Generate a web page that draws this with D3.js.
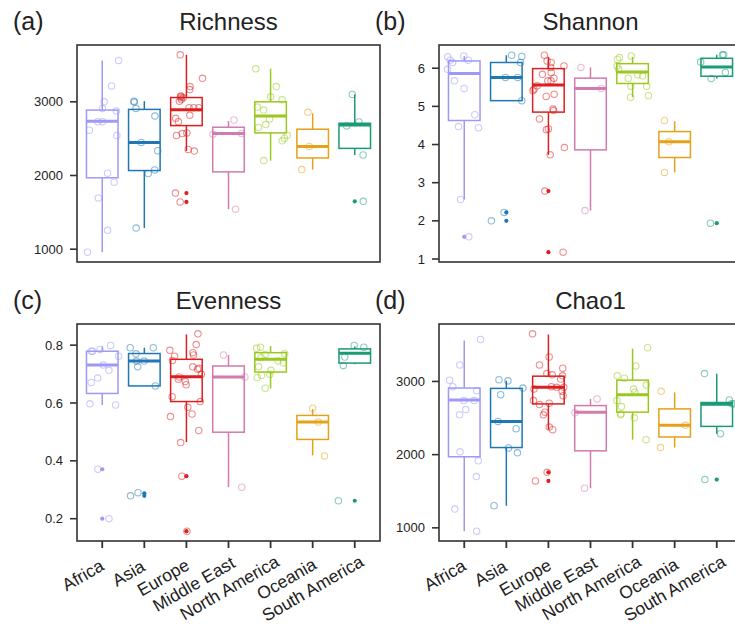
<!DOCTYPE html>
<html><head><meta charset="utf-8">
<script src="https://cdn.jsdelivr.net/npm/d3@7"></script>
<style>
body{margin:0;background:#fff;overflow:hidden;}
svg{display:block;font-family:"Liberation Sans",Arial,Helvetica,sans-serif;}
</style>
</head><body>
<svg id="chart" width="735" height="631"></svg>
<script>
// ---------------- DATA ----------------
const categories = ["Africa","Asia","Europe","Middle East","North America","Oceania","South America"];
const colors = ["#9d9af5","#1f77b4","#dd1f1f","#d27bad","#99c91f","#e6a11a","#1a9b75"];
const panelLetters = ["(a)","(b)","(c)","(d)"];
const panelTitles = ["Richness","Shannon","Evenness","Chao1"];

const richnessTicks = [1000,2000,3000];
const shannonTicks = [1,2,3,4,5,6];
const evennessTicks = [0.2,0.4,0.6,0.8];
const chao1Ticks = [1000,2000,3000];

// box stats per category: [lower whisker, Q1, median, Q3, upper whisker]
const richnessBoxes = [
  [960,1969,2735,2888,3561],[1287,2067,2448,2897,3009],[2332,2677,2892,3058,3637],
  [1543,2049,2570,2655,2740],[2202,2578,2807,3000,3448],[2081,2238,2395,2628,2843],
  [2278,2368,2686,2709,3100]];
const richnessOutliers = [[],[],[1762,1641],[],[],[],[1650]];
const richnessPoints = [
  [3561,3215,2910,3000,2874,2731,2731,2614,2543,2031,1910,1695,1256,960],
  [3009,2996,2910,2807,2448,2336,2076,2027,1287],
  [3637,3318,3206,3166,3009,3031,3054,3054,3076,3076,2919,2919,2919,2816,2776,2731,2578,2543,2569,2354,2332,1762,1641],
  [2753,2570,2560,1543],
  [3448,3206,3067,3027,2928,2888,2767,2691,2650,2547,2507,2471,2202],
  [2857,2395,2081],
  [3100,2727,2673,2278,1650]];

const shannonBoxes = [
  [2.56,4.63,5.86,6.19,6.32],[5.15,5.15,5.76,6.15,6.34],[3.73,4.85,5.56,5.99,6.30],
  [2.27,3.86,5.47,5.74,6.02],[5.24,5.60,5.90,6.12,6.30],[3.27,3.66,4.07,4.34,4.61],
  [5.73,5.79,6.03,6.26,6.35]];
const shannonOutliers = [[1.58],[2.22,2.00],[2.78,1.18],[],[],[],[1.94]];
const shannonPoints = [
  [6.32,6.21,6.15,6.21,6.30,5.97,5.67,5.47,4.78,4.44,4.47,2.56,1.58],
  [6.31,6.34,6.15,5.76,5.76,5.15,2.22,2.00],
  [6.34,6.19,6.15,6.06,6.02,5.84,5.89,5.67,5.74,5.54,5.45,5.41,5.32,5.26,4.93,4.89,4.67,4.39,4.41,3.92,3.73,2.78,1.18,5.67],
  [6.02,5.47,2.27],
  [6.28,6.32,6.23,6.06,5.97,5.83,5.80,5.74,5.53,5.53,5.28,5.24],
  [4.63,4.07,3.27],
  [6.35,6.35,6.16,5.89,5.73,1.94]];

const evennessBoxes = [
  [0.593,0.633,0.731,0.779,0.795],[0.659,0.659,0.745,0.771,0.791],[0.465,0.605,0.691,0.751,0.837],
  [0.309,0.499,0.690,0.728,0.766],[0.650,0.707,0.751,0.774,0.797],[0.419,0.474,0.534,0.557,0.579],
  [0.734,0.738,0.772,0.787,0.795]];
const evennessOutliers = [[0.371,0.200],[0.288,0.279],[0.347,0.157],[],[],[],[0.262]];
const evennessPoints = [
  [0.762,0.779,0.779,0.785,0.799,0.731,0.713,0.686,0.671,0.597,0.593,0.371,0.200],
  [0.745,0.770,0.791,0.791,0.745,0.725,0.659,0.290,0.279],
  [0.839,0.802,0.782,0.774,0.762,0.766,0.747,0.725,0.720,0.717,0.699,0.682,0.690,0.674,0.663,0.622,0.605,0.585,0.562,0.553,0.505,0.463,0.347,0.157],
  [0.766,0.690,0.309],
  [0.793,0.789,0.770,0.768,0.757,0.745,0.725,0.713,0.696,0.699,0.688,0.651,0.739],
  [0.582,0.534,0.417],
  [0.799,0.793,0.759,0.730,0.262]];

const chao1Boxes = [
  [955,1971,2747,2910,3560],[1302,2097,2454,2905,3009],[2341,2693,2919,3072,3641],
  [1542,2052,2580,2670,2761],[2205,2580,2819,3018,3447],[2097,2241,2400,2625,2851],
  [2287,2386,2690,2712,3105]];
const chao1Outliers = [[],[],[1758,1641],[],[],[],[1660]];
const chao1Points = [
  [3573,3226,3018,2874,2928,2616,2544,2738,2738,2038,1916,1700,1257,955],
  [3023,3009,2910,2819,2454,2354,2092,2025,1302],
  [3650,3334,3226,3181,3077,3108,3032,3090,2928,2919,2919,2896,2865,2806,2702,2684,2738,2580,2544,2377,2341,1758,1641],
  [2761,2571,1542],
  [3461,3212,3077,3045,2950,2896,2851,2738,2657,2544,2558,2503,2205],
  [2865,2400,2097],
  [3108,2694,2694,2287,1660,2747]];

// ---------------- LAYOUT ----------------
const panels = [
  {box:richnessBoxes, out:richnessOutliers, pts:richnessPoints, ticks:richnessTicks, fmt:d3.format("d"), x0:77, x1:380, y0:45, y1:262, xAxis:false, seed:0.11},
  {box:shannonBoxes, out:shannonOutliers, pts:shannonPoints, ticks:shannonTicks, fmt:d3.format("d"), x0:439, x1:742, y0:45, y1:262, xAxis:false, seed:0.37},
  {box:evennessBoxes, out:evennessOutliers, pts:evennessPoints, ticks:evennessTicks, fmt:d3.format(".1f"), x0:77, x1:380, y0:324, y1:541, xAxis:true, seed:0.59},
  {box:chao1Boxes, out:chao1Outliers, pts:chao1Points, ticks:chao1Ticks, fmt:d3.format("d"), x0:439, x1:742, y0:324, y1:541, xAxis:true, seed:0.83}
];

const svg = d3.select("#chart");
const axisColor = "#333";

panels.forEach((p, pi) => {
  const g = svg.append("g");
  const x = d3.scalePoint().domain(categories).range([p.x0, p.x1]).padding(0.6);
  const allVals = p.pts.flat().concat(p.box.flat());
  const [mn, mx] = d3.extent(allVals);
  const pad = (mx - mn) * 0.05;
  const y = d3.scaleLinear().domain([mn - pad, mx + pad]).range([p.y1, p.y0]);
  const step = x.step();
  const bw = step * 0.75;
  const rnd = d3.randomLcg(p.seed);

  const clipId = "clip" + pi;
  svg.append("clipPath").attr("id", clipId).append("rect")
    .attr("x", p.x0).attr("y", p.y0).attr("width", p.x1 - p.x0).attr("height", p.y1 - p.y0);
  const plot = g.append("g").attr("clip-path", `url(#${clipId})`);

  categories.forEach((c, ci) => {
    const col = colors[ci];
    const [lo, q1, med, q3, hi] = p.box[ci];
    const cx = x(c);
    const cg = plot.append("g");
    cg.append("line").attr("x1", cx).attr("x2", cx).attr("y1", y(q3)).attr("y2", y(hi))
      .attr("stroke", col).attr("stroke-width", 1.5);
    cg.append("line").attr("x1", cx).attr("x2", cx).attr("y1", y(q1)).attr("y2", y(lo))
      .attr("stroke", col).attr("stroke-width", 1.5);
    cg.append("rect").attr("x", cx - bw/2).attr("width", bw)
      .attr("y", y(q3)).attr("height", y(q1) - y(q3))
      .attr("fill", "#fff").attr("stroke", col).attr("stroke-width", 1.5);
    cg.append("line").attr("x1", cx - bw/2).attr("x2", cx + bw/2)
      .attr("y1", y(med)).attr("y2", y(med))
      .attr("stroke", col).attr("stroke-width", 3);
    cg.selectAll("circle.out").data(p.out[ci]).join("circle")
      .attr("class","out").attr("cx", cx).attr("cy", d => y(d)).attr("r", 2.1)
      .attr("fill", col);
    cg.selectAll("circle.pt").data(p.pts[ci]).join("circle")
      .attr("class","pt")
      .attr("cx", () => cx + (rnd() - 0.5) * 0.8 * step)
      .attr("cy", d => y(d)).attr("r", 3.2)
      .attr("fill", "none").attr("stroke", col).attr("stroke-width", 1.1)
      .attr("stroke-opacity", 0.5);
  });

  g.append("rect").attr("x", p.x0).attr("y", p.y0)
    .attr("width", p.x1 - p.x0).attr("height", p.y1 - p.y0)
    .attr("fill", "none").attr("stroke", axisColor).attr("stroke-width", 1.6);

  p.ticks.forEach(t => {
    g.append("line").attr("x1", p.x0 - 7).attr("x2", p.x0).attr("y1", y(t)).attr("y2", y(t))
      .attr("stroke", axisColor).attr("stroke-width", 1.6);
    g.append("text").attr("x", p.x0 - 14).attr("y", y(t)).attr("dy", "0.35em")
      .attr("text-anchor", "end").attr("font-size", 13).attr("fill", "#222")
      .text(p.fmt(t));
  });

  if (p.xAxis) {
    categories.forEach(c => {
      const cx = x(c);
      g.append("line").attr("x1", cx).attr("x2", cx).attr("y1", p.y1).attr("y2", p.y1 + 7)
        .attr("stroke", axisColor).attr("stroke-width", 1.8);
      const t = g.append("text")
        .attr("transform", `translate(${cx - 4.7},${p.y1 + 25.6}) rotate(-30)`)
        .attr("font-size", 17.5).attr("fill", "#222").text(c);
      const L = t.node().getComputedTextLength();
      t.attr("x", -0.88 * L).attr("dy", "0.35em");
    });
  }

  g.append("text").attr("x", (p.x0 + p.x1) / 2).attr("y", p.y0 - 15)
    .attr("text-anchor", "middle").attr("font-size", 24).attr("fill", "#222")
    .text(panelTitles[pi]);
  g.append("text").attr("x", p.x0 - 64).attr("y", p.y0 - 15)
    .attr("font-size", 25).attr("fill", "#222").text(panelLetters[pi]);
});
</script>
</body></html>
